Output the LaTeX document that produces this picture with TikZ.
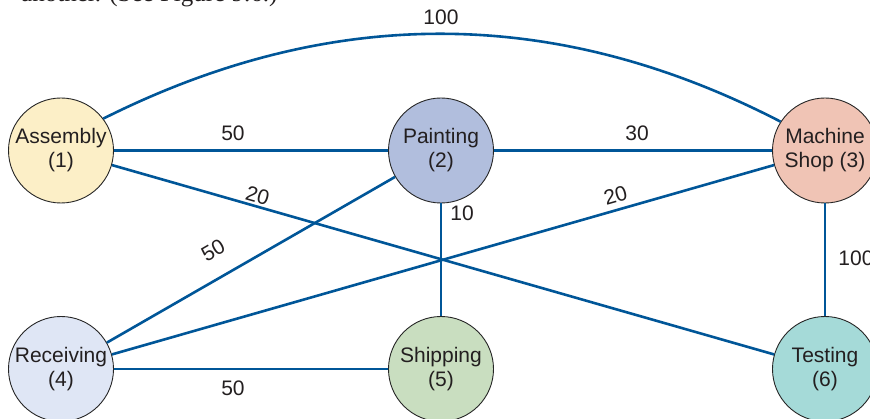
\documentclass[tikz,border=0pt]{standalone}
\usepackage{fontspec}
\setmainfont{Liberation Sans}
\newfontfamily\serifface{Liberation Serif}
\definecolor{edgeblue}{RGB}{0,86,152}
\definecolor{txtgray}{RGB}{35,31,32}
\definecolor{cAssembly}{RGB}{252,239,199}
\definecolor{cPainting}{RGB}{177,190,221}
\definecolor{cMachine}{RGB}{240,196,181}
\definecolor{cReceiving}{RGB}{223,230,245}
\definecolor{cShipping}{RGB}{201,222,192}
\definecolor{cTesting}{RGB}{165,218,216}
\begin{document}
\begin{tikzpicture}[x=1pt,y=1pt,
  dept/.style={circle, draw=black!85, line width=0.9pt, minimum size=105pt,
    inner sep=0pt, align=center, text=txtgray,
    font=\fontsize{21}{24}\selectfont},
  edge/.style={draw=edgeblue, line width=2.6pt},
  lbl/.style={text=txtgray, inner sep=0pt, font=\fontsize{21}{24}\selectfont}]
\useasboundingbox[fill=white] (0,0) rectangle (870,418);
\node[anchor=base west, inner sep=0pt, text=txtgray, font=\serifface\fontsize{25}{28}\selectfont] (cap) at (21,416) {another. (See Figure 9.6.)};
% nodes
\node[dept, fill=cAssembly]  (a) at (61,267.5)  {Assembly\\(1)};
\node[dept, fill=cPainting]  (p) at (441,267.5) {Painting\\(2)};
\node[dept, fill=cMachine]   (m) at (825,267.5) {Machine\\Shop (3)};
\node[dept, fill=cReceiving] (r) at (61,49)     {Receiving\\(4)};
\node[dept, fill=cShipping]  (s) at (441,49)    {Shipping\\(5)};
\node[dept, fill=cTesting]   (t) at (825,49)    {Testing\\(6)};
% edges
\draw[edge] (a.37) .. controls (330,413) and (555,413) .. (m.147);
\draw[edge] (a) -- (p);
\draw[edge] (p) -- (m);
\draw[edge] (a) -- (t);
\draw[edge] (m) -- (r);
\draw[edge] (p) -- (r);
\draw[edge] (p) -- (s);
\draw[edge] (m) -- (t);
\draw[edge] (r) -- (s);
% labels
\node[lbl] (l13) at (441,401) {100};
\node[lbl] (l12) at (233,285) {50};
\node[lbl] (l23) at (637,285) {30};
\node[lbl, rotate=-16] (l16) at (257.5,222.5) {20};
\node[lbl, rotate=16] (l34) at (615.5,222.5) {20};
\node[lbl, rotate=30] (l24) at (213,167.5) {50};
\node[lbl] (l25) at (462,205) {10};
\node[lbl] (l36) at (856,160) {100};
\node[lbl] (l45) at (233,30) {50};
\end{tikzpicture}
\end{document}
